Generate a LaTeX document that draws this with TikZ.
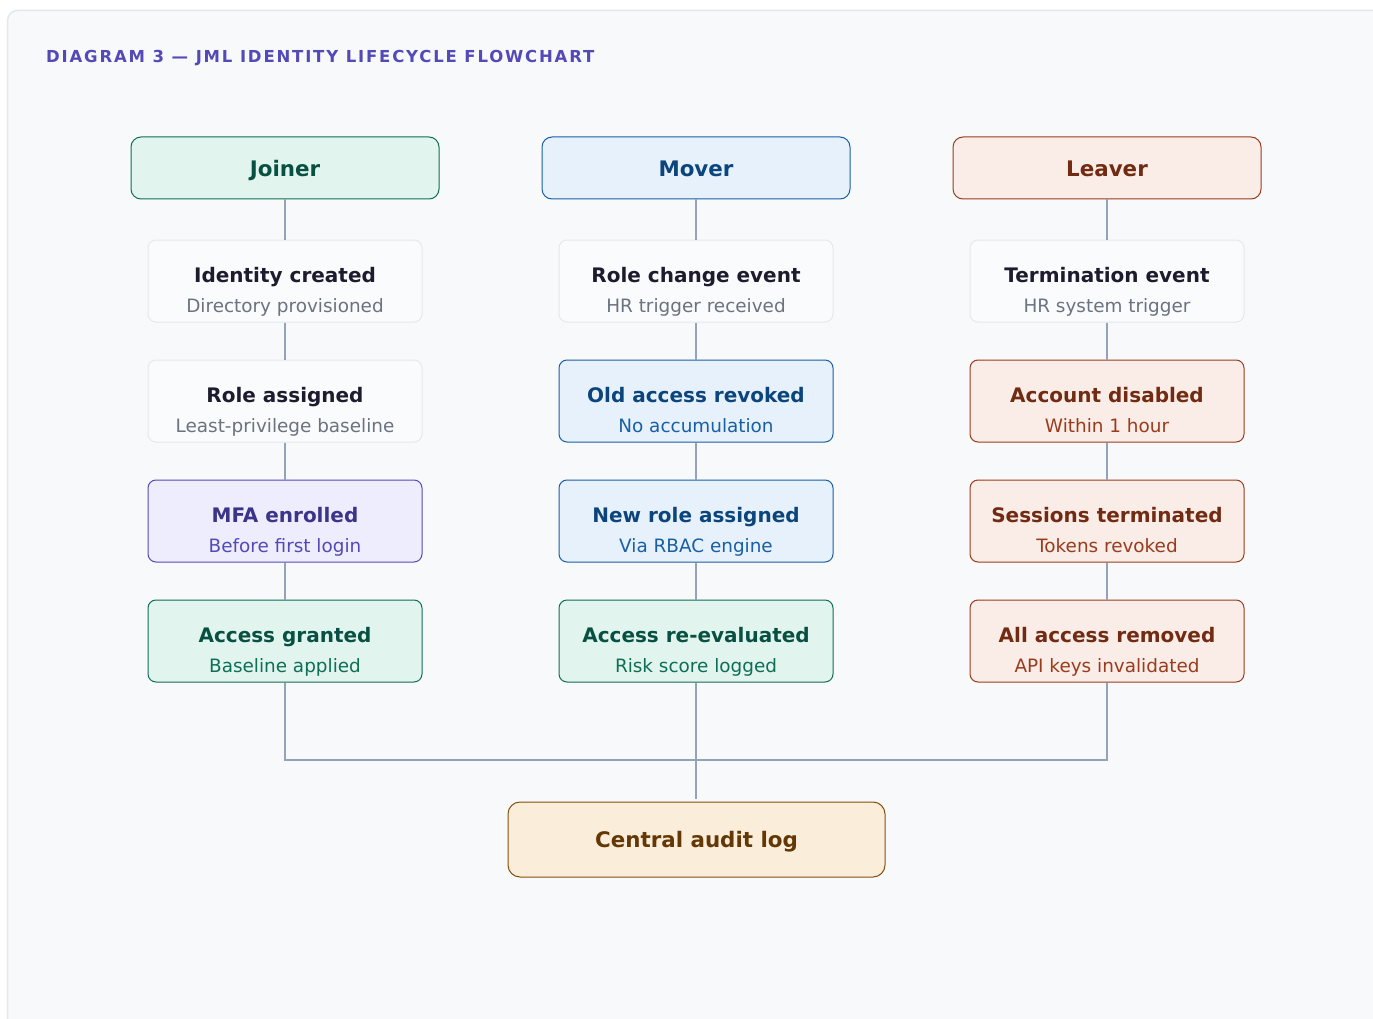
\documentclass[tikz,border=0pt]{standalone}
\usepackage{fontspec}
\setmainfont{DejaVu Sans}
\newfontfamily\spacedfont[LetterSpace=11]{DejaVu Sans}
\definecolor{panelbg}{HTML}{F8F9FB}
\definecolor{panelbd}{HTML}{E3E7EE}
\definecolor{conncol}{HTML}{94A3B8}
\definecolor{titlecol}{HTML}{534AB7}
% joiner / green
\definecolor{gfill}{HTML}{E1F5EE}\definecolor{gbd}{HTML}{0F6E56}\definecolor{gtt}{HTML}{085041}\definecolor{gsub}{HTML}{0F6E56}
% mover / blue
\definecolor{bfill}{HTML}{E6F1FB}\definecolor{bbd}{HTML}{185FA5}\definecolor{btt}{HTML}{0C447C}\definecolor{bsub}{HTML}{185FA5}
% leaver / red
\definecolor{rfill}{HTML}{FAECE7}\definecolor{rbd}{HTML}{993C1D}\definecolor{rtt}{HTML}{712B13}\definecolor{rsub}{HTML}{993C1D}
% purple
\definecolor{pfill}{HTML}{EEEDFE}\definecolor{pbd}{HTML}{534AB7}\definecolor{ptt}{HTML}{3C3489}\definecolor{psub}{HTML}{534AB7}
% neutral
\definecolor{nfill}{HTML}{FAFBFC}\definecolor{nbd}{HTML}{E5E8EE}\definecolor{ntt}{HTML}{1E1B2E}\definecolor{nsub}{HTML}{6B7280}
% amber
\definecolor{afill}{HTML}{FAEEDA}\definecolor{abd}{HTML}{854F0B}\definecolor{att}{HTML}{633806}

\tikzset{
  headbox/.style={rounded corners=10, minimum width=308, minimum height=62, line width=1, inner sep=0},
  stepbox/.style={rounded corners=8, minimum width=274, minimum height=82, line width=1, inner sep=0},
  auditbox/.style={rounded corners=12, minimum width=377, minimum height=75, line width=1, inner sep=0, fill=afill, draw=abd},
  headtxt/.style={anchor=base, inner sep=0, font=\fontsize{21.4}{25}\selectfont\bfseries},
  ttl/.style={anchor=base, inner sep=0, font=\fontsize{20}{24}\selectfont\bfseries},
  sub/.style={anchor=base, inner sep=0, font=\fontsize{18.4}{22}\selectfont},
  green/.style={fill=gfill, draw=gbd}, greenT/.style={text=gtt}, greenS/.style={text=gsub},
  blue/.style={fill=bfill, draw=bbd}, blueT/.style={text=btt}, blueS/.style={text=bsub},
  red/.style={fill=rfill, draw=rbd}, redT/.style={text=rtt}, redS/.style={text=rsub},
  purple/.style={fill=pfill, draw=pbd}, purpleT/.style={text=ptt}, purpleS/.style={text=psub},
  neutral/.style={fill=nfill, draw=nbd}, neutralT/.style={text=ntt}, neutralS/.style={text=nsub},
  conn/.style={draw=conncol, line width=2},
}
\newcommand\headnode[5]{% name, x, y, colour style, text
  \node[headbox,#4] (#1) at (#2,#3) {};
  \node[headtxt,#4T] (#1-t) at ([yshift=-8.5pt]#1.center) {#5};
}
\newcommand\stepnode[6]{% name, x, y, colour style, title, subtitle
  \node[stepbox,#4] (#1) at (#2,#3) {};
  \node[ttl,#4T] (#1-t) at ([yshift=-1.5pt]#1.center) {#5};
  \node[sub,#4S] (#1-s) at ([yshift=-31pt]#1.center) {#6};
}

\begin{document}
\begin{tikzpicture}[x=1pt,y=-1pt]
\useasboundingbox (0,0) rectangle (1373,1019);
\fill[white] (0,0) rectangle (1373,1019);
\begin{scope}
\clip (0,0) rectangle (1373,1019);
\draw[fill=panelbg, draw=panelbd, line width=1.5, rounded corners=10] (7.5,10.5) rectangle (1400,1050);
\end{scope}

\node[anchor=base west, inner sep=0, text=titlecol, font=\fontsize{16.5}{20}\selectfont\bfseries\spacedfont] (title) at (46,63) {DIAGRAM 3 — JML IDENTITY LIFECYCLE FLOWCHART};

% headers
\headnode{jh}{285}{168}{green}{Joiner}
\headnode{mh}{696}{168}{blue}{Mover}
\headnode{lh}{1107}{168}{red}{Leaver}

% joiner column
\stepnode{j1}{285}{281}{neutral}{Identity created}{Directory provisioned}
\stepnode{j2}{285}{401}{neutral}{Role assigned}{Least-privilege baseline}
\stepnode{j3}{285}{521}{purple}{MFA enrolled}{Before first login}
\stepnode{j4}{285}{641}{green}{Access granted}{Baseline applied}

% mover column
\stepnode{m1}{696}{281}{neutral}{Role change event}{HR trigger received}
\stepnode{m2}{696}{401}{blue}{Old access revoked}{No accumulation}
\stepnode{m3}{696}{521}{blue}{New role assigned}{Via RBAC engine}
\stepnode{m4}{696}{641}{green}{Access re-evaluated}{Risk score logged}

% leaver column
\stepnode{l1}{1107}{281}{neutral}{Termination event}{HR system trigger}
\stepnode{l2}{1107}{401}{red}{Account disabled}{Within 1 hour}
\stepnode{l3}{1107}{521}{red}{Sessions terminated}{Tokens revoked}
\stepnode{l4}{1107}{641}{red}{All access removed}{API keys invalidated}

% audit
\node[auditbox] (audit) at (696.5,839.5) {};
\node[headtxt, text=att] (audit-t) at ([yshift=-8pt]audit.center) {Central audit log};

% connectors
\foreach \c in {j,m,l}{
  \draw[conn] (\c h.south) -- (\c1.north);
  \draw[conn] (\c1.south) -- (\c2.north);
  \draw[conn] (\c2.south) -- (\c3.north);
  \draw[conn] (\c3.south) -- (\c4.north);
}
\coordinate (bus) at (696,760);
\coordinate (auditin) at ([yshift=3pt]audit.north);
\draw[conn] (j4.south) -- (j4.south |- bus) -- (l4.south |- bus) -- (l4.south);
\draw[conn] (m4.south) -- (m4.south |- auditin);
\end{tikzpicture}
\end{document}
